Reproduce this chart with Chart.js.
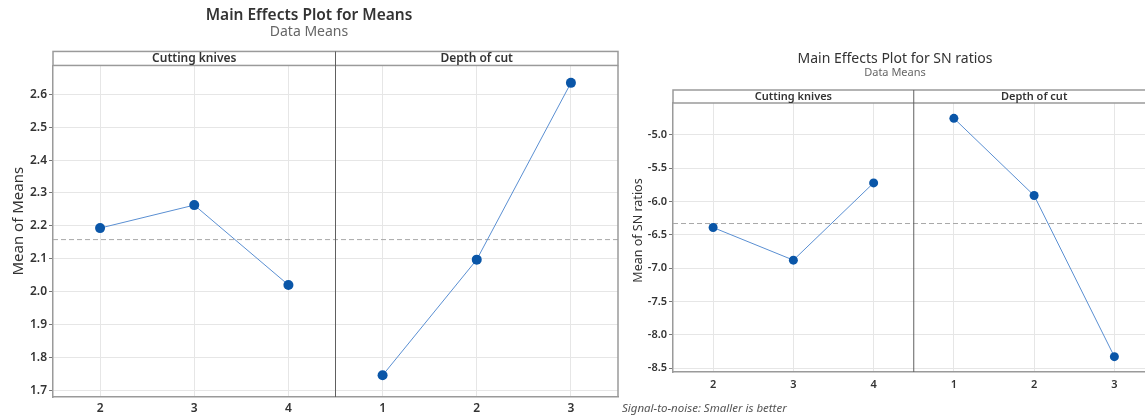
<!DOCTYPE html>
<html>
<head>
<meta charset="utf-8">
<script src="https://cdn.jsdelivr.net/npm/chart.js@4.4.1/dist/chart.umd.min.js"></script>
<style>
html, body { margin: 0; padding: 0; background: #fff; overflow: hidden; width: 1145px; height: 419px; }
#wrapL { position: absolute; left: 0; top: 0; width: 634px; height: 419px; }
#wrapR { position: absolute; left: 620px; top: 0; width: 539px; height: 397px; }
#note { position: absolute; left: 622px; top: 400px; line-height: 16px; font: italic 11.5px "Noto Sans", sans-serif; color: #555; }
</style>
</head>
<body>
<div id="wrapL"><canvas id="means"></canvas></div>
<div id="wrapR"><canvas id="sn"></canvas></div>
<div id="note">Signal-to-noise: Smaller is better</div>
<script>
// factors and levels
const panels = ["Cutting knives", "Depth of cut"];
const knifeLevels = ["2", "3", "4"];
const depthLevels = ["1", "2", "3"];

// main effects for means
const knifeMeans = [2.193, 2.263, 2.020];
const depthMeans = [1.745, 2.097, 2.635];
const grandMean = 2.158;
const meansTicks = [1.7, 1.8, 1.9, 2.0, 2.1, 2.2, 2.3, 2.4, 2.5, 2.6];

// main effects for SN ratios
const knifeSN = [-6.39, -6.88, -5.72];
const depthSN = [-4.75, -5.91, -8.33];
const grandSN = -6.33;
const snTicks = [-8.5, -8.0, -7.5, -7.0, -6.5, -6.0, -5.5, -5.0];

Chart.defaults.font.family = '"Noto Sans", sans-serif';
Chart.defaults.color = "#333";

// header strip, divider, frame, grand-mean line and y title
const panelFrame = {
    id: "panelFrame",
    beforeDatasetsDraw(chart, args, opts) {
        const { ctx, chartArea: a, scales: { x, y } } = chart;
        const mid = (x.getPixelForValue(2) + x.getPixelForValue(3)) / 2;
        const my = y.getPixelForValue(opts.mean);
        ctx.save();
        ctx.lineWidth = 1;
        ctx.strokeStyle = "#a8a8a8";
        ctx.setLineDash([5, 3]);
        ctx.beginPath(); ctx.moveTo(a.left, my); ctx.lineTo(a.right, my); ctx.stroke();
        ctx.setLineDash([]);
        ctx.strokeStyle = "#9a9a9a";
        ctx.lineWidth = 1.5;
        ctx.strokeRect(a.left, a.top - opts.strip, a.right - a.left, opts.strip);
        ctx.beginPath(); ctx.moveTo(a.right, a.top); ctx.lineTo(a.right, a.bottom); ctx.stroke();
        ctx.lineWidth = 1;
        ctx.strokeStyle = "#606060";
        ctx.beginPath(); ctx.moveTo(mid, a.top - opts.strip); ctx.lineTo(mid, a.bottom); ctx.stroke();
        ctx.fillStyle = "#333";
        ctx.font = "600 " + opts.fontSize + 'px "Noto Sans", sans-serif';
        ctx.textAlign = "center";
        ctx.textBaseline = "middle";
        ctx.fillText(panels[0], (a.left + mid) / 2, a.top - opts.strip / 2);
        ctx.fillText(panels[1], (mid + a.right) / 2, a.top - opts.strip / 2);
        // y axis title
        ctx.font = opts.yTitleSize + 'px "Noto Sans", sans-serif';
        ctx.translate(y.left + opts.yTitleX, (a.top + a.bottom) / 2 - opts.yTitleShift);
        ctx.rotate(-Math.PI / 2);
        ctx.fillText(opts.yTitle, 0, 0);
        ctx.restore();
    }
};

function effectsChart(id, s) {
    return new Chart(document.getElementById(id), {
        type: "line",
        data: {
            labels: knifeLevels.concat(depthLevels),
            datasets: [
                { data: s.knife.concat(depthLevels.map(() => null)) },
                { data: knifeLevels.map(() => null).concat(s.depth) }
            ]
        },
        plugins: [panelFrame],
        options: {
            responsive: true,
            maintainAspectRatio: false,
            animation: false,
            layout: { padding: s.padding },
            elements: {
                line: { borderColor: "#5a8fd2", borderWidth: 1, tension: 0 },
                point: { radius: s.radius, backgroundColor: "#0a56a8", borderColor: "#0a56a8", borderWidth: 0 }
            },
            plugins: {
                legend: { display: false },
                tooltip: { enabled: false },
                title: {
                    display: true, text: s.title, color: "#333",
                    font: { size: s.titleSize, weight: s.titleWeight, lineHeight: 1.1 },
                    padding: { top: s.titleTop, bottom: 0 }
                },
                subtitle: {
                    display: true, text: "Data Means", color: "#666",
                    font: { size: s.subSize, lineHeight: 1.1 },
                    padding: { top: 0, bottom: s.subBottom }
                },
                panelFrame: {
                    mean: s.mean, strip: s.strip, fontSize: s.stripFont,
                    yTitle: s.yTitle, yTitleSize: s.yTitleSize, yTitleX: s.yTitleX, yTitleShift: s.yTitleShift
                }
            },
            scales: {
                x: {
                    type: "category",
                    offset: true,
                    grid: { color: "#e6e6e6", drawTicks: false },
                    border: { color: "#9a9a9a", width: 1.5 },
                    ticks: { padding: s.xPad, font: { size: s.tickSize, weight: "600" }, maxRotation: 0 },
                    afterFit: (sc) => { sc.height = s.xHeight; }
                },
                y: {
                    min: s.min, max: s.max,
                    grid: { color: "#e6e6e6", tickColor: "#777", tickLength: 4 },
                    border: { color: "#9a9a9a", width: 1.5 },
                    ticks: { padding: 2, font: { size: s.tickSize, weight: "600" }, callback: (v) => v.toFixed(1) },
                    afterBuildTicks: (sc) => { sc.ticks = s.ticks.map((v) => ({ value: v })); },
                    afterFit: (sc) => { sc.width = s.yWidth; }
                }
            }
        }
    });
}

effectsChart("means", {
    title: "Main Effects Plot for Means", yTitle: "Mean of Means",
    knife: knifeMeans, depth: depthMeans, mean: grandMean, ticks: meansTicks,
    min: 1.679, max: 2.688,
    padding: { left: 0, right: 16, top: 0, bottom: 0 },
    titleSize: 15.5, titleWeight: "600", titleTop: 7.5, subSize: 14, subBottom: 25.5,
    strip: 14, stripFont: 12, tickSize: 12, radius: 5,
    xHeight: 22, xPad: 4, yWidth: 53,
    yTitleSize: 15, yTitleX: 18.5, yTitleShift: 10
});

effectsChart("sn", {
    title: "Main Effects Plot for SN ratios", yTitle: "Mean of SN ratios",
    knife: knifeSN, depth: depthSN, mean: grandSN, ticks: snTicks,
    min: -8.56, max: -4.52,
    padding: { left: 11, right: 0, top: 0, bottom: 0 },
    titleSize: 14, titleWeight: "normal", titleTop: 51.5, subSize: 11, subBottom: 24,
    strip: 13, stripFont: 11, tickSize: 11, radius: 4.5,
    xHeight: 25, xPad: 6, yWidth: 42,
    yTitleSize: 12.5, yTitleX: 7, yTitleShift: 7
});
</script>
</body>
</html>
